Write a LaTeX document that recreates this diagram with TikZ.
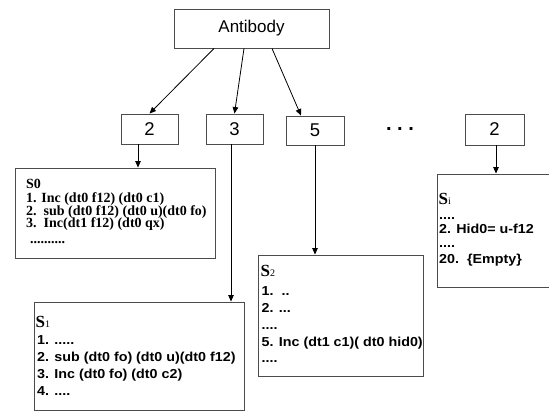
\documentclass[tikz,border=0pt]{standalone}
\usepackage{fontspec}
\setmainfont{Liberation Serif}
\newfontfamily\arialf{Liberation Sans}
\newfontfamily\arialw[FakeStretch=1.1]{Liberation Sans}
\usetikzlibrary{arrows.meta}

% state heading: large bold S with a small index
\newcommand\Slabel[1]{{\rmfamily\bfseries\fontsize{17}{17}\selectfont S}{\rmfamily\mdseries\fontsize{10}{10}\selectfont #1}}

\begin{document}
\begin{tikzpicture}[x=1pt,y=-1pt,
  box/.style={draw=black!70, line width=0.9pt, inner sep=0pt, rectangle},
  conn/.style={line width=0.8pt, -{Triangle[length=6.5pt,width=5.5pt]}},
  numbox/.style={box, minimum width=57pt, minimum height=30pt,
    font=\arialf\fontsize{18.5}{18.5}\selectfont},
  txtline/.style={anchor=base west, inner sep=0pt,
    font=\arialw\bfseries\fontsize{13}{13}\selectfont},
  serifline/.style={anchor=base west, inner sep=0pt,
    font=\rmfamily\bfseries\fontsize{14}{14}\selectfont},
]
\clip (0,0) rectangle (549,411);
\fill[white] (0,0) rectangle (549,411);

% antibody and its genes
\node[box, minimum width=155pt, minimum height=39pt,
      font=\arialf\fontsize{17}{17}\selectfont] (ab) at (251.5,28.5) {Antibody};
\node[numbox] (b2a) at (149.5,129) {2};
\node[numbox] (b3) at (234.5,129) {3};
\node[numbox, minimum width=58pt, minimum height=29pt] (b5) at (315,130.5) {5};
\node[numbox, minimum width=59pt, minimum height=31pt] (b2b) at (494.5,129.5) {2};
\node[anchor=base, inner sep=0pt, font=\arialf\bfseries\fontsize{20}{20}\selectfont]
  (dots) at (400,130.5) {.\ .\ .};

% state boxes
\node[box, minimum width=200pt, minimum height=90pt] (s0) at (115,213) {};
\node[box, minimum width=210pt, minimum height=108pt] (s1) at (139,356) {};
\node[box, minimum width=165pt, minimum height=121pt] (s2) at (340.5,315.5) {};
\node[box, minimum width=123pt, minimum height=113pt] (si) at (498.5,230.5) {};

% connectors
\draw[conn] ([xshift=-37.5pt]ab.south) -- (b2a.north);
\draw[conn] ([xshift=-7.5pt]ab.south) -- (b3.north);
\draw[conn] ([xshift=20.5pt]ab.south) -- ([xshift=-14pt]b5.north);
\draw[conn] ([xshift=-11.5pt]b2a.south) -- ([xshift=-11.5pt]b2a.south |- s0.north);
\draw[conn] ([xshift=-3.5pt]b3.south) -- ([xshift=-3.5pt]b3.south |- s1.north);
\draw[conn] (b5.south) -- (b5.south |- s2.north);
\draw[conn] ([xshift=1.5pt]b2b.south) -- ([xshift=1.5pt]b2b.south |- si.north);

% contents of S0
\foreach [count=\k] \yy/\txt in {
  189/{S0},
  202.7/{1. Inc (dt0 f12) (dt0 c1)},
  215.3/{2.\ \ sub (dt0 f12) (dt0 u)(dt0 fo)},
  228/{3.\ \ Inc(dt1 f12) (dt0 qx)}}
  \node[serifline] (s0l\k) at (26,\yy) {\txt};
\node[serifline] (s0l5) at (30,244) {..........};

% contents of S1
\node[txtline] (s1h) at (35.5,328) {\Slabel{1}};
\foreach [count=\k] \yy/\txt in {
  345/{1. .....},
  362/{2. sub (dt0 fo) (dt0 u)(dt0 f12)},
  379/{3. Inc (dt0 fo) (dt0 c2)},
  396/{4. ....}}
  \node[txtline] (s1l\k) at (37,\yy) {\txt};

% contents of S2
\node[txtline] (s2h) at (260.5,277) {\Slabel{2}};
\foreach [count=\k] \yy/\txt in {
  296/{1.\ \ ..},
  313/{2. ...},
  330/{....},
  347/{5. Inc (dt1 c1)( dt0 hid0)},
  363/{....}}
  \node[txtline] (s2l\k) at (261.5,\yy) {\txt};

% contents of Si
\node[txtline] (sih) at (438.5,205) {\Slabel{i}};
\foreach [count=\k] \yy/\txt in {
  219.5/{....},
  233.5/{2. Hid0= u-f12},
  248/{....},
  264/{20.\ \ \{Empty\}}}
  \node[txtline] (sil\k) at (439,\yy) {\txt};
\end{tikzpicture}
\end{document}
